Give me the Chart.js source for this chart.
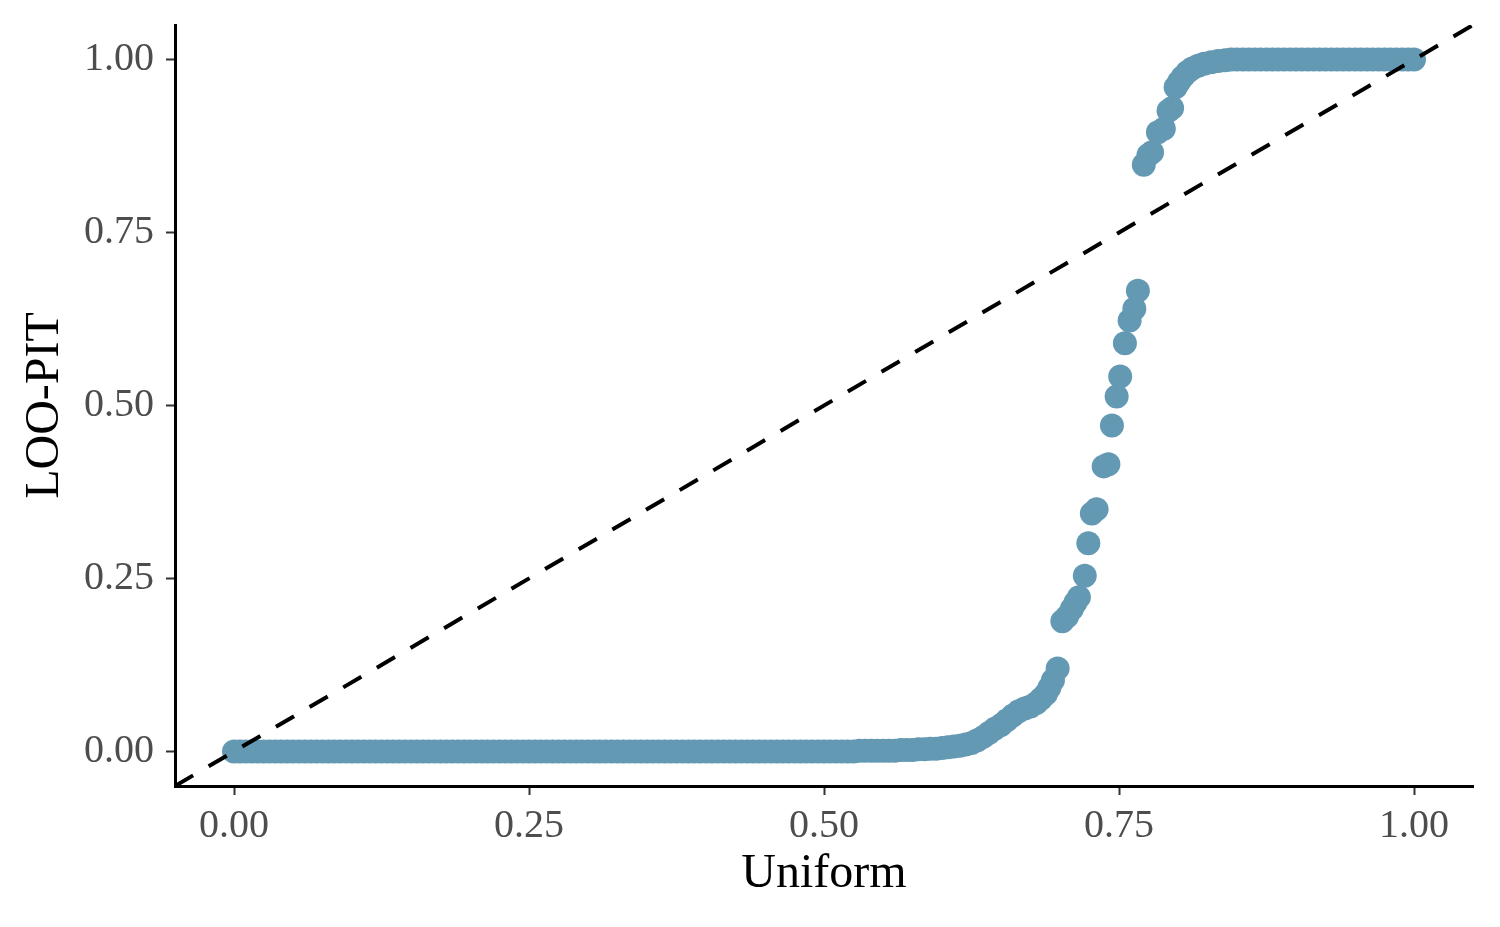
<!DOCTYPE html>
<html>
<head>
<meta charset="utf-8">
<title>LOO-PIT vs Uniform</title>
<script src="https://cdn.jsdelivr.net/npm/chart.js@4.4.1/dist/chart.umd.min.js"></script>
<style>
  html, body { margin: 0; padding: 0; background: #ffffff; }
  #wrap { width: 1500px; height: 927px; }
</style>
</head>
<body>
<div id="wrap"><canvas id="chart" width="1500" height="927"></canvas></div>
<script>
// uniform quantiles (x) and sorted LOO-PIT values (y)
const uniform = [
  0.000, 0.005, 0.010, 0.015, 0.020, 0.025, 0.030, 0.035, 0.040, 0.045,
  0.050, 0.055, 0.060, 0.065, 0.070, 0.075, 0.080, 0.085, 0.090, 0.095,
  0.100, 0.105, 0.110, 0.115, 0.120, 0.125, 0.130, 0.135, 0.140, 0.145,
  0.150, 0.155, 0.160, 0.165, 0.170, 0.175, 0.180, 0.185, 0.190, 0.195,
  0.200, 0.205, 0.210, 0.215, 0.220, 0.225, 0.230, 0.235, 0.240, 0.245,
  0.250, 0.255, 0.260, 0.265, 0.270, 0.275, 0.280, 0.285, 0.290, 0.295,
  0.300, 0.305, 0.310, 0.315, 0.320, 0.325, 0.330, 0.335, 0.340, 0.345,
  0.350, 0.355, 0.360, 0.365, 0.370, 0.375, 0.380, 0.385, 0.390, 0.395,
  0.400, 0.405, 0.410, 0.415, 0.420, 0.425, 0.430, 0.435, 0.440, 0.445,
  0.450, 0.455, 0.460, 0.465, 0.470, 0.475, 0.480, 0.485, 0.490, 0.495,
  0.500, 0.505, 0.510, 0.515, 0.520, 0.525, 0.530, 0.535, 0.540, 0.545,
  0.550, 0.555, 0.560,
  0.565, 0.570, 0.575, 0.580, 0.585, 0.590, 0.595, 0.600, 0.605, 0.610,
  0.615, 0.620, 0.625, 0.630, 0.635, 0.640, 0.645, 0.650, 0.655, 0.660,
  0.665, 0.670, 0.675, 0.680, 0.684, 0.688, 0.691, 0.694, 0.698,
  0.702, 0.706, 0.710, 0.713, 0.716, 0.721, 0.724, 0.727, 0.731, 0.737,
  0.741, 0.744, 0.748, 0.751, 0.755, 0.759, 0.763, 0.766,
  0.771, 0.775, 0.778, 0.783, 0.788, 0.792, 0.795, 0.798, 0.801, 0.804,
  0.808, 0.812, 0.817, 0.822, 0.828, 0.834, 0.840,
  0.845, 0.850, 0.855, 0.860, 0.865, 0.870, 0.875, 0.880, 0.885, 0.890,
  0.895, 0.900, 0.905, 0.910, 0.915, 0.920, 0.925, 0.930, 0.935, 0.940,
  0.945, 0.950, 0.955, 0.960, 0.965, 0.970, 0.975, 0.980, 0.985, 0.990,
  0.995, 1.000
];

const looPit = [
  0, 0, 0, 0, 0, 0, 0, 0, 0, 0,
  0, 0, 0, 0, 0, 0, 0, 0, 0, 0,
  0, 0, 0, 0, 0, 0, 0, 0, 0, 0,
  0, 0, 0, 0, 0, 0, 0, 0, 0, 0,
  0, 0, 0, 0, 0, 0, 0, 0, 0, 0,
  0, 0, 0, 0, 0, 0, 0, 0, 0, 0,
  0, 0, 0, 0, 0, 0, 0, 0, 0, 0,
  0, 0, 0, 0, 0, 0, 0, 0, 0, 0,
  0, 0, 0, 0, 0, 0, 0, 0, 0, 0,
  0, 0, 0, 0, 0, 0, 0, 0, 0, 0,
  0, 0, 0, 0, 0, 0, 0.001, 0.001, 0.001, 0.001,
  0.001, 0.001, 0.001,
  0.002, 0.002, 0.002, 0.003, 0.003, 0.004, 0.004, 0.005, 0.006, 0.007,
  0.008, 0.010, 0.012, 0.016, 0.021, 0.027, 0.033, 0.038, 0.045, 0.052,
  0.058, 0.062, 0.065, 0.070, 0.076, 0.083, 0.092, 0.103, 0.120,
  0.188, 0.195, 0.206, 0.215, 0.223, 0.254, 0.301, 0.344, 0.350, 0.412,
  0.415, 0.471, 0.513, 0.542, 0.590, 0.623, 0.640, 0.666,
  0.848, 0.862, 0.866, 0.895, 0.900, 0.926, 0.930, 0.960, 0.968, 0.975,
  0.982, 0.987, 0.991, 0.994, 0.996, 0.998, 0.999,
  1, 1, 1, 1, 1, 1, 1, 1, 1, 1,
  1, 1, 1, 1, 1, 1, 1, 1, 1, 1,
  1, 1, 1, 1, 1, 1, 1, 1, 1, 1,
  1, 1
];

const tickValues = [0, 0.25, 0.5, 0.75, 1];
const axisRange = [-0.05, 1.05];   // also the ends of the y = x reference line

const pointColor = 'rgb(100,153,179)';
const serif = '"Liberation Serif", "DejaVu Serif", serif';

const points = uniform.map((x, i) => ({ x: x, y: looPit[i] }));
const refLine = axisRange.map(v => ({ x: v, y: v }));

function fixTicks(axis) {
    axis.ticks = tickValues.map(v => ({ value: v }));
}

function axisOptions(titleText, titlePadding) {
    return {
        type: 'linear',
        min: axisRange[0],
        max: axisRange[1],
        afterBuildTicks: fixTicks,
        border: { display: true, color: '#000000', width: 3 },
        grid: {
            drawOnChartArea: false,
            drawTicks: true,
            tickLength: 9,
            tickWidth: 2,
            tickColor: '#333333'
        },
        ticks: {
            color: '#4d4d4d',
            font: { family: serif, size: 40 },
            padding: 12,
            callback: v => Number(v).toFixed(2)
        },
        title: {
            display: true,
            text: titleText,
            color: '#000000',
            font: { family: serif, size: 48 },
            padding: titlePadding
        }
    };
}

const xScale = axisOptions('Uniform', { top: 0, bottom: 24 });
xScale.ticks.padding = 7;
xScale.afterFit = s => { s.height = 141; s.paddingLeft = 0; s.paddingRight = 0; };

const yScale = axisOptions('LOO-PIT', { top: 17, bottom: 0 });
yScale.afterFit = s => { s.width = 175; s.paddingTop = 0; s.paddingBottom = 0; };

new Chart(document.getElementById('chart'), {
    type: 'scatter',
    data: {
        datasets: [
            {
                type: 'line',
                data: refLine,
                borderColor: '#000000',
                borderWidth: 4,
                borderDash: [21, 18],
                borderCapStyle: 'butt',
                pointRadius: 0,
                fill: false,
                order: 0
            },
            {
                type: 'scatter',
                data: points,
                backgroundColor: pointColor,
                borderWidth: 0,
                pointRadius: 12,
                pointHoverRadius: 12,
                order: 1
            }
        ]
    },
    options: {
        responsive: false,
        animation: false,
        events: [],
        layout: { padding: { top: 25, right: 27, left: 0, bottom: 0 } },
        plugins: {
            legend: { display: false },
            tooltip: { enabled: false }
        },
        scales: { x: xScale, y: yScale }
    }
});
</script>
</body>
</html>
